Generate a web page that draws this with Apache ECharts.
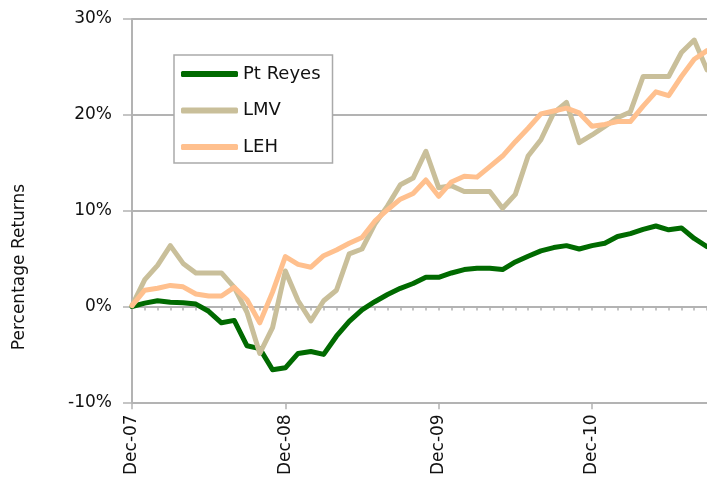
<!DOCTYPE html>
<html>
<head>
<meta charset="utf-8">
<title>Percentage Returns</title>
<script src="https://cdn.jsdelivr.net/npm/echarts@6/dist/echarts.min.js"></script>
<style>
  html, body { margin: 0; padding: 0; background: #fff; }
  #chart { width: 707px; height: 478px; }
</style>
</head>
<body>
<div id="chart"></div>
<script>
  // months, Dec-07 .. Sep-11
  const months = [
    'Dec-07', 'Jan-08', 'Feb-08', 'Mar-08', 'Apr-08', 'May-08', 'Jun-08', 'Jul-08', 'Aug-08', 'Sep-08', 'Oct-08', 'Nov-08',
    'Dec-08', 'Jan-09', 'Feb-09', 'Mar-09', 'Apr-09', 'May-09', 'Jun-09', 'Jul-09', 'Aug-09', 'Sep-09', 'Oct-09', 'Nov-09',
    'Dec-09', 'Jan-10', 'Feb-10', 'Mar-10', 'Apr-10', 'May-10', 'Jun-10', 'Jul-10', 'Aug-10', 'Sep-10', 'Oct-10', 'Nov-10',
    'Dec-10', 'Jan-11', 'Feb-11', 'Mar-11', 'Apr-11', 'May-11', 'Jun-11', 'Jul-11', 'Aug-11', 'Sep-11'
  ]

  // cumulative returns, %
  const ptReyes = [
    0, 0.35, 0.6, 0.45, 0.4, 0.25, -0.5, -1.7, -1.45, -4.1, -4.4, -6.6,
    -6.4, -4.9, -4.7, -5.0, -3.1, -1.55, -0.35, 0.5, 1.25, 1.9, 2.4, 3.05,
    3.05, 3.5, 3.85, 4.0, 4.0, 3.85, 4.65, 5.25, 5.8, 6.15, 6.35, 6.0,
    6.35, 6.6, 7.3, 7.6, 8.05, 8.4, 8.0, 8.2, 7.1, 6.25
  ]
  const lmv = [
    0.1, 2.8, 4.3, 6.35, 4.5, 3.5, 3.5, 3.5, 2.0, -0.6, -4.9, -2.2,
    3.7, 0.6, -1.5, 0.6, 1.7, 5.5, 6.0, 8.6, 10.5, 12.7, 13.4, 16.2,
    12.4, 12.6, 12.0, 12.0, 12.0, 10.25, 11.7, 15.7, 17.4, 20.2, 21.3, 17.1,
    17.9, 18.8, 19.7, 20.3, 24.0, 24.0, 24.0, 26.5, 27.8, 24.7
  ]
  const leh = [
    0.1, 1.7, 1.9, 2.2, 2.05, 1.3, 1.1, 1.1, 2.0, 0.7, -1.7, 1.5,
    5.2, 4.4, 4.1, 5.3, 5.9, 6.6, 7.2, 8.9, 10.1, 11.2, 11.8, 13.2,
    11.5, 13.0, 13.6, 13.5, 14.6, 15.7, 17.2, 18.6, 20.1, 20.4, 20.7, 20.2,
    18.8, 19.0, 19.3, 19.3, 20.9, 22.4, 22.0, 24.0, 25.8, 26.7
  ]

  const font = 'DejaVu Sans'
  const gridGray = '#b3b3b3'

  const makeLine = (name, data, color) => ({
    name: name,
    type: 'line',
    data: data,
    showSymbol: false,
    color: color,
    lineStyle: { width: 5, color: color, cap: 'round', join: 'round' }
  })

  const chart = echarts.init(document.getElementById('chart'))
  chart.setOption({
    animation: false,
    backgroundColor: '#fff',
    grid: { left: 132, right: -1, top: 19, bottom: 74.5 },
    legend: {
      orient: 'vertical',
      left: 174,
      top: 55,
      backgroundColor: '#fff',
      borderColor: '#aaa',
      borderWidth: 1.5,
      padding: [10, 12, 7, 7],
      itemWidth: 57,
      itemHeight: 6,
      itemGap: 18.5,
      icon: 'roundRect',
      textStyle: { fontFamily: font, fontSize: 18, color: '#111' },
      data: ['Pt Reyes', 'LMV', 'LEH']
    },
    graphic: [{
      type: 'text',
      x: 20,
      y: 267,
      rotation: Math.PI / 2,
      style: {
        text: 'Percentage Returns',
        font: '17px "DejaVu Sans"',
        fill: '#111',
        align: 'center',
        verticalAlign: 'middle'
      }
    }],
    xAxis: [
      // labels along the bottom
      {
        type: 'category',
        position: 'bottom',
        boundaryGap: false,
        data: months,
        axisLine: { show: false, onZero: false },
        axisTick: { show: false },
        axisLabel: { interval: 11, rotate: 90, margin: 12, fontFamily: font, fontSize: 17, color: '#111' }
      },
      // monthly ticks on the zero line
      {
        type: 'category',
        position: 'bottom',
        boundaryGap: false,
        data: months,
        axisLine: { show: true, onZero: true, lineStyle: { color: gridGray, width: 2 } },
        axisTick: { show: true, interval: 0, length: 4, lineStyle: { color: gridGray, width: 1.5 } },
        axisLabel: { show: false }
      },
      // longer yearly ticks
      {
        type: 'category',
        position: 'bottom',
        boundaryGap: false,
        data: months,
        axisLine: { show: false, onZero: true },
        axisTick: { show: true, interval: 11, length: 7, lineStyle: { color: gridGray, width: 1.5 } },
        axisLabel: { show: false }
      }
    ],
    yAxis: {
      type: 'value',
      min: -10,
      max: 30,
      interval: 10,
      axisLine: { show: true, lineStyle: { color: gridGray, width: 2 } },
      axisTick: { show: true, length: 9, lineStyle: { color: gridGray, width: 1.5 } },
      axisLabel: { formatter: '{value}%', margin: 20, fontFamily: font, fontSize: 17, color: '#111' },
      splitLine: { lineStyle: { color: gridGray, width: 2 } }
    },
    series: [
      makeLine('Pt Reyes', ptReyes, '#006a00'),
      makeLine('LMV', lmv, '#c9bf9a'),
      makeLine('LEH', leh, '#ffc08e')
    ]
  })
</script>
</body>
</html>
